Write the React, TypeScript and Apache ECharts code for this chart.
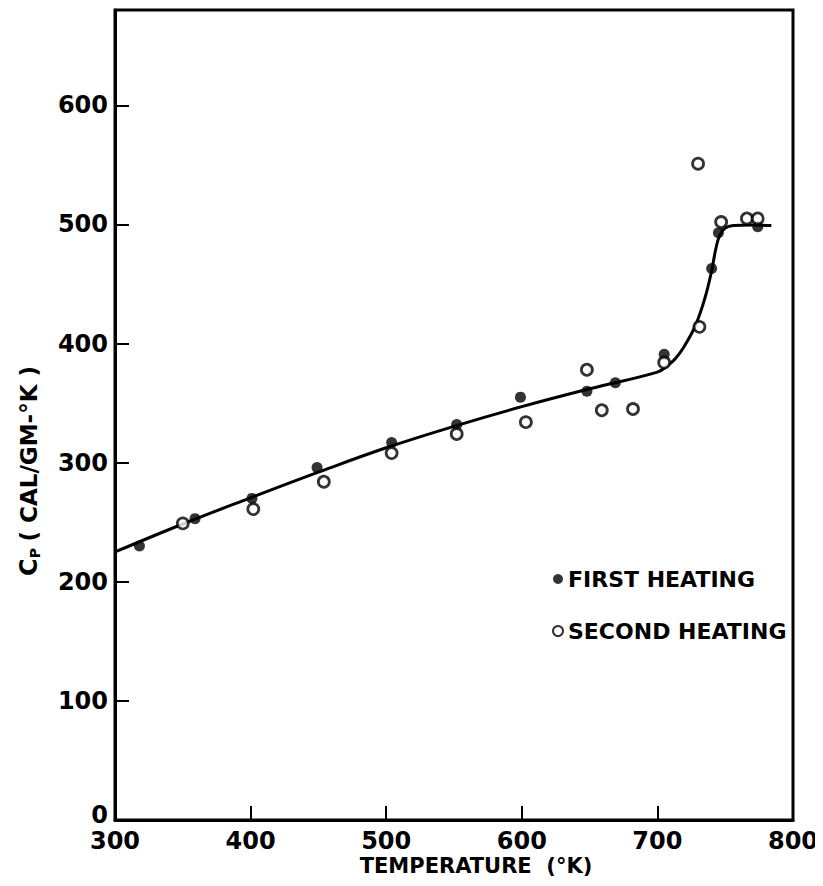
import React, { useEffect, useRef } from "react";
import * as echarts from "echarts";

const xTicks = [300, 400, 500, 600, 700, 800];
const yTicks = [100, 200, 300, 400, 500, 600];

const firstHeating: [number, number][] = [
  [318, 230], [359, 253], [401, 270], [449, 296], [504, 317], [552, 332],
  [599, 355], [648, 360], [669, 367], [705, 391], [740, 463], [745, 493], [774, 498],
];

const secondHeating: [number, number][] = [
  [350, 249], [402, 261], [454, 284], [504, 308], [552, 324], [603, 334],
  [648, 378], [659, 344], [682, 345], [705, 384], [731, 414], [730, 551],
  [747, 502], [766, 505], [774, 505],
];

const curve: [number, number][] = [
  [300, 225], [350, 248.5], [400, 270.5], [450, 292], [500, 312.5], [550, 330.5],
  [600, 347], [650, 362], [700, 376], [707, 381], [713, 387], [720, 398], [728, 415],
  [735, 438], [740, 461], [743, 479], [746, 491], [750, 497], [756, 499],
  [770, 499.5], [784, 499],
];

const FONT = "'DejaVu Sans', sans-serif";

export default function App() {
  const ref = useRef<HTMLDivElement>(null);
  useEffect(() => {
    if (!ref.current) return;
    const chart = echarts.init(ref.current, undefined, { renderer: "svg" });
    chart.setOption({
      animation: false,
      backgroundColor: "#fff",
      grid: {
        left: 115, right: 30, top: 10, bottom: 66,
        show: true, borderColor: "#000", borderWidth: 3, backgroundColor: "transparent",
      },
      legend: {
        orient: "vertical",
        left: 547,
        top: 563,
        itemWidth: 10,
        itemHeight: 10,
        itemGap: 30,
        icon: "circle",
        data: ["FIRST HEATING", "SECOND HEATING"],
        textStyle: { fontFamily: FONT, fontWeight: "bold", fontSize: 22, color: "#000" },
      },
      graphic: [
        {
          type: "text",
          x: 29,
          y: 471,
          rotation: Math.PI / 2,
          style: {
            text: "{c|C}{p|P}  {n|( CAL/GM-°K )}",
            align: "center",
            verticalAlign: "middle",
            rich: {
              c: { fontFamily: FONT, fontWeight: "bold", fontSize: 24, fill: "#000" },
              p: { fontFamily: FONT, fontWeight: "bold", fontSize: 14, fill: "#000", padding: [12, 0, 0, 0] },
              n: { fontFamily: FONT, fontWeight: "bold", fontSize: 23, fill: "#000" },
            },
          },
        },
        {
          type: "text",
          x: 476,
          y: 866,
          style: {
            text: "TEMPERATURE  (°K)",
            align: "center",
            verticalAlign: "middle",
            fontFamily: FONT, fontWeight: "bold", fontSize: 21, fill: "#000",
          },
        },
        {
          type: "text",
          x: 108,
          y: 815,
          style: {
            text: "0",
            align: "right",
            verticalAlign: "middle",
            fontFamily: FONT, fontWeight: "bold", fontSize: 24, fill: "#000",
          },
        },
      ],
      xAxis: {
        type: "value",
        min: 300, max: 800, interval: 100,
        axisLine: { show: true, onZero: false, lineStyle: { color: "#000", width: 3 } },
        axisTick: { show: true, inside: true, length: 14, lineStyle: { color: "#000", width: 2 } },
        axisLabel: {
          margin: 9, fontFamily: FONT, fontWeight: "bold", fontSize: 24, color: "#000",
          formatter: (v: number) => (xTicks.includes(v) ? String(v) : ""),
        },
        splitLine: { show: false },
      },
      yAxis: {
        type: "value",
        min: 0, max: 680, interval: 100,
        axisLine: { show: true, lineStyle: { color: "#000", width: 3 } },
        axisTick: { show: true, inside: true, length: 14, lineStyle: { color: "#000", width: 2 } },
        axisLabel: {
          margin: 7, fontFamily: FONT, fontWeight: "bold", fontSize: 24, color: "#000",
          formatter: (v: number) => (yTicks.includes(v) ? String(v) : ""),
        },
        splitLine: { show: false },
      },
      series: [
        {
          name: "curve",
          type: "line",
          data: curve,
          smooth: 0.4,
          showSymbol: false,
          symbol: "none",
          lineStyle: { color: "#000", width: 3 },
          z: 1,
        },
        {
          name: "FIRST HEATING",
          type: "scatter",
          data: firstHeating,
          symbol: "circle",
          symbolSize: 11,
          itemStyle: { color: "#000" },
          z: 3,
        },
        {
          name: "SECOND HEATING",
          type: "scatter",
          data: secondHeating,
          symbol: "circle",
          symbolSize: 11,
          itemStyle: { color: "#fff", borderColor: "#000", borderWidth: 2.8 },
          z: 4,
        },
      ],
    });
    return () => chart.dispose();
  }, []);
  return <div ref={ref} style={{ width: 823, height: 886, margin: -8 }} />;
}
